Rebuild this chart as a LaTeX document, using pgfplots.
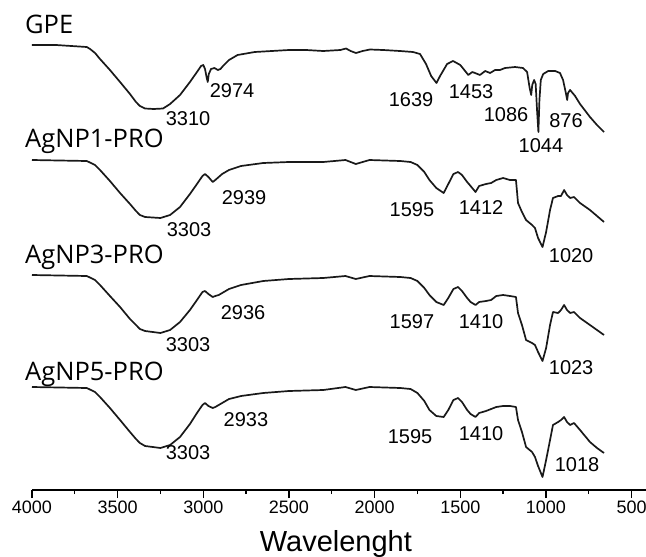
\documentclass[border=0pt]{standalone}
\usepackage{fontspec}
\setmainfont{Liberation Sans}
\newfontfamily\opensans{Open Sans}
\usepackage{pgfplots}
\pgfplotsset{compat=1.18}

% IR spectra, y = 500 - pixel row of the reference (stacked, no y scale)
\pgfplotstableread{
wn    gpe
4000  455
3860  455
3680  453
3661  451
3632  447
3603  441
3545  430
3486  418
3428  406
3393  398
3370  394
3340  391.5
3290  391
3235  391.5
3194  396
3136  405
3078  418
3037  428
3013  434
3000  435
2990  431
2980  422
2974  418
2968  426
2955  431
2935  432
2915  430
2900  431
2885  434
2850  440
2800  445
2700  448
2600  449
2500  450
2400  450
2300  449
2200  450
2167  451.5
2140  449
2109  447
2070  449
2027  450.5
1950  450
1852  449
1776  448
1735  446
1700  436
1670  424
1639  417
1618  424
1577  436
1542  439
1500  435
1467  428
1453  425
1430  428
1414  427
1385  425
1355  429
1326  427
1297  430
1268  430
1239  432
1180  433
1134  432
1110  428
1095  412
1086  405
1080  415
1069  420
1060  416
1052  390
1044  368
1038  400
1030  420
1016  426
987   429
946   429
918   427
900   420
885   408
876   400
871   407
859   410
830   404
801   396
743   383
702   375
661   368
}\gpe

\pgfplotstableread{
wn    a1   a3   a5
4000  340  225  113
3680  339  224  112
3632  335  220  108
3603  330  215  103
3545  319  204  92
3486  307  193  80
3428  296  181  68
3393  289  175  61
3370  285  171  57
3340  283  169  54
3250  282  167  52
3194  285  170  55
3136  293  178  63
3078  306  190  76
3037  316  200  87
3005  324  208  95
2990  326  209  97
2970  323  206  94
2945  318  203  92
2930  320  204  93
2910  323  205  95
2890  326  207  97
2850  330  211  101
2780  334  215  104
2650  337  219  107
2500  338  221  109
2300  338  222  110
2170  340  224  113
2110  336  221  110
2030  340  224  113
1850  339  223  112
1790  338  222  111
1750  335  219  107
1710  328  212  99
1680  320  205  90
1640  312  198  84
1597  307  195  83
1570  316  202  90
1540  326  211  100
1513  328  213  102
1490  325  209  98
1460  318  202  90
1440  314  198  86
1411  308  195  83
1390  314  198  87
1350  316  199  89
1320  317  200  91
1290  320  204  93
1250  322  205  94
1210  320  204  94
1175  320  203  93
1163  297  187  80
1140  288  175  68
1116  280  160  53
1081  275  157  48
1064  272  155  43
1046  262  148  34
1020  253  139  23
999   268  152  40
976   290  175  60
959   302  188  75
929   304  187  78
912   304  190  80
894   310  195  83
877   305  190  78
859   302  187  75
836   303  188  77
801   297  182  70
743   290  175  58
702   284  170  52
661   278  165  47
}\agnp

\tikzset{
  tr/.style={black!90, line width=1.7pt, line join=round, mark=none},
  pk/.style={font=\fontsize{20}{22}\selectfont, inner sep=0pt},
  nm/.style={font=\opensans\fontsize{25.5}{27}\selectfont, anchor=base west, inner sep=0pt},
}

\begin{document}
\begin{tikzpicture}
\useasboundingbox (0,0) rectangle (646pt,-557pt);
\begin{axis}[
  scale only axis, width=614pt, height=490pt,
  anchor=south west, at={(32pt,-490pt)},
  x dir=reverse, xmin=416, xmax=4000, ymin=10, ymax=500,
  axis x line=bottom, axis y line=none,
  x axis line style={-, line width=1.3pt},
  xtick={500,1000,...,4000}, minor x tick num=1,
  xtick align=outside, major tick length=8pt, minor tick length=4pt,
  every tick/.style={black, line width=1.3pt},
  xticklabel style={font=\fontsize{18}{20}\selectfont, yshift=1pt},
  /pgf/number format/1000 sep={},
  /pgf/number format/assume math mode=true,
  xlabel={Wavelenght},
  xlabel style={font=\fontsize{29}{31}\selectfont, at={(rel axis cs:0.495,0)},
    anchor=base, yshift=-61pt},
  clip=false,
]
\addplot[tr] table[x=wn, y=gpe] {\gpe};
\addplot[tr] table[x=wn, y=a1] {\agnp};
\addplot[tr] table[x=wn, y=a3] {\agnp};
\addplot[tr] table[x=wn, y=a5] {\agnp};

\node[nm] at (axis cs:4041,467) {GPE};
\node[nm] at (axis cs:4041,353) {AgNP1-PRO};
\node[nm] at (axis cs:4041,237) {AgNP3-PRO};
\node[nm] at (axis cs:4041,120) {AgNP5-PRO};

\node[pk] at (axis cs:3089,381) {3310};
\node[pk] at (axis cs:2832,409) {2974};
\node[pk] at (axis cs:1787,400) {1639};
\node[pk] at (axis cs:1437,408) {1453};
\node[pk] at (axis cs:1233,385) {1086};
\node[pk] at (axis cs:1029,354) {1044};
\node[pk] at (axis cs:883,379) {876};

\node[pk] at (axis cs:3083,270) {3303};
\node[pk] at (axis cs:2762,302) {2939};
\node[pk] at (axis cs:1782,290) {1595};
\node[pk] at (axis cs:1379,292) {1412};
\node[pk] at (axis cs:853,244) {1020};

\node[pk] at (axis cs:3089,155) {3303};
\node[pk] at (axis cs:2768,187) {2936};
\node[pk] at (axis cs:1782,178) {1597};
\node[pk] at (axis cs:1379,178) {1410};
\node[pk] at (axis cs:853,132) {1023};

\node[pk] at (axis cs:3089,47) {3303};
\node[pk] at (axis cs:2751,80) {2933};
\node[pk] at (axis cs:1793,63) {1595};
\node[pk] at (axis cs:1379,66) {1410};
\node[pk] at (axis cs:818,35) {1018};
\end{axis}
\end{tikzpicture}
\end{document}
